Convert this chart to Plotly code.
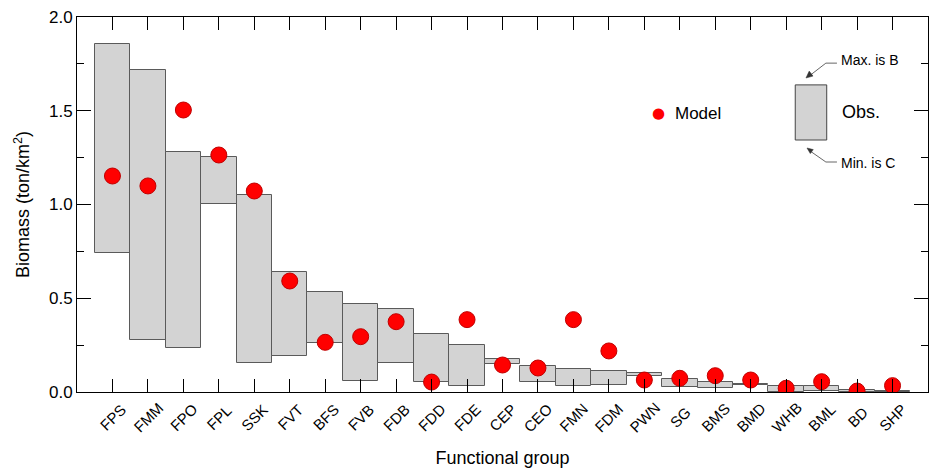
import plotly.graph_objects as go

groups = ["FPS", "FMM", "FPO", "FPL", "SSK", "FVT", "BFS", "FVB", "FDB", "FDD", "FDE", "CEP",
          "CEO", "FMN", "FDM", "PWN", "SG", "BMS", "BMD", "WHB", "BML", "BD", "SHP"]
obs_max = [1.856, 1.717, 1.280, 1.253, 1.051, 0.640, 0.533, 0.468, 0.443, 0.308, 0.249, 0.178,
           0.137, 0.124, 0.110, 0.100, 0.068, 0.053, 0.044, 0.030, 0.030, 0.009, 0.005]
obs_min = [0.741, 0.277, 0.235, 1.003, 0.155, 0.192, 0.263, 0.059, 0.153, 0.052, 0.032, 0.151,
           0.055, 0.032, 0.037, 0.087, 0.025, 0.020, 0.035, 0.000, 0.007, 0.000, 0.000]
model = [1.152, 1.099, 1.504, 1.264, 1.072, 0.592, 0.265, 0.295, 0.375, 0.053, 0.386, 0.144,
         0.128, 0.386, 0.219, 0.064, 0.073, 0.087, 0.064, 0.020, 0.055, 0.005, 0.034]

idx = list(range(len(groups)))
FONT = "Liberation Sans, Arial, sans-serif"

fig = go.Figure()
fig.add_trace(go.Bar(
    x=idx, y=[a - b for a, b in zip(obs_max, obs_min)], base=obs_min, width=1.0,
    marker=dict(color="#d3d3d3", line=dict(color="#5a5a5a", width=1)),
    showlegend=False, hoverinfo="skip"))
fig.add_trace(go.Scatter(
    x=idx, y=model, mode="markers",
    marker=dict(color="#ff0000", size=16, line=dict(color="#c00000", width=1)),
    showlegend=False))

ARROW = dict(color="#666", width=1)
shapes = [
    dict(type="rect", xref="paper", yref="paper", x0=0.844, x1=0.881, y0=0.672, y1=0.819,
         fillcolor="#d3d3d3", line=dict(color="#444444", width=1)),
    # Max arrow
    dict(type="path", xref="paper", yref="paper",
         path="M0.893,0.877 L0.880,0.877 L0.860,0.842", line=ARROW),
    dict(type="path", xref="paper", yref="paper",
         path="M0.8566,0.8373 L0.8649,0.8424 L0.8604,0.8557 Z",
         fillcolor="#333", line=dict(color="#333", width=0.5)),
    # Min arrow
    dict(type="path", xref="paper", yref="paper",
         path="M0.893,0.6133 L0.880,0.6133 L0.860,0.645", line=ARROW),
    dict(type="path", xref="paper", yref="paper",
         path="M0.8578,0.6507 L0.8652,0.6464 L0.8617,0.6357 Z",
         fillcolor="#333", line=dict(color="#333", width=0.5)),
]
annotations = [
    dict(xref="paper", yref="paper", x=0.683, y=0.744, text="●", showarrow=False,
         xanchor="center", yanchor="middle",
         font=dict(color="#ff0000", size=15, family="DejaVu Sans")),
    dict(xref="paper", yref="paper", x=0.700, y=0.744, text="Model", showarrow=False,
         xanchor="left", yanchor="middle", font=dict(size=17, family=FONT, color="#000")),
    dict(xref="paper", yref="paper", x=0.897, y=0.747, text="Obs.", showarrow=False,
         xanchor="left", yanchor="middle", font=dict(size=18, family=FONT, color="#000")),
    dict(xref="paper", yref="paper", x=0.895, y=0.885, text="Max. is B", showarrow=False,
         xanchor="left", yanchor="middle", font=dict(size=14, family=FONT, color="#000")),
    dict(xref="paper", yref="paper", x=0.895, y=0.611, text="Min. is C", showarrow=False,
         xanchor="left", yanchor="middle", font=dict(size=14, family=FONT, color="#000")),
]
# category labels, centred under each tick and rotated 45 degrees
for i, g in zip(idx, groups):
    annotations.append(dict(
        xref="x", yref="paper", x=i, y=0, yshift=-25, text=g, showarrow=False,
        textangle=-45, xanchor="center", yanchor="middle",
        font=dict(size=15, family=FONT, color="#000")))

fig.update_layout(
    width=949, height=469,
    margin=dict(l=69, r=29, t=9, b=85, autoexpand=False),
    paper_bgcolor="white", plot_bgcolor="white",
    font=dict(family=FONT, size=15, color="#000"),
    bargap=0, shapes=shapes, annotations=annotations,
    xaxis=dict(
        range=[-1, 23], tickmode="array", tickvals=idx, ticktext=groups,
        showticklabels=False,
        ticks="inside", ticklen=13, tickcolor="#000", tickwidth=1,
        showline=True, linecolor="#000", linewidth=1, mirror="ticks",
        showgrid=False, zeroline=False,
        title=dict(text="Functional group", font=dict(size=18), standoff=59)),
    yaxis=dict(
        range=[0, 2], tickmode="array", tickvals=[0, 0.5, 1.0, 1.5, 2.0],
        ticktext=["0.0", "0.5", "1.0", "1.5", "2.0"], ticklabeloverflow="allow",
        ticks="inside", ticklen=14, tickcolor="#000", tickwidth=1,
        minor=dict(tickvals=[0.25, 0.75, 1.25, 1.75], ticks="inside", ticklen=7,
                   tickcolor="#000"),
        showline=True, linecolor="#000", linewidth=1, mirror="ticks",
        showgrid=False, zeroline=False, tickfont=dict(size=17),
        title=dict(text="Biomass (ton/km<sup>2</sup>)", font=dict(size=18), standoff=14)),
)
fig.write_html("out.html")
